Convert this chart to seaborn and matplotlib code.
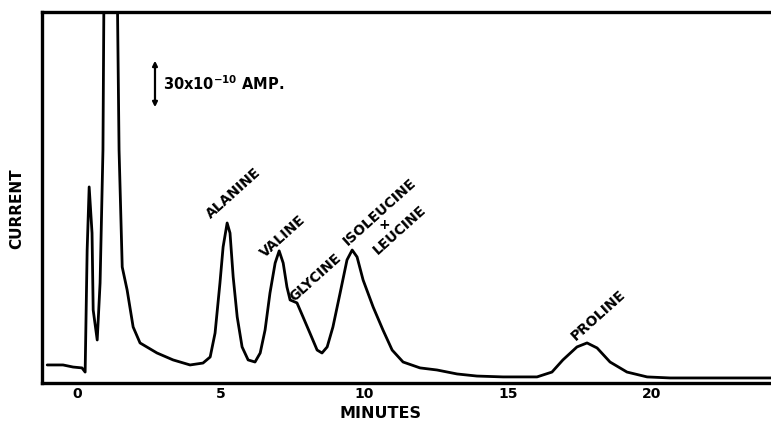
import matplotlib
matplotlib.use("Agg")
import matplotlib.pyplot as plt
import seaborn as sns
import pandas as pd

# chromatogram trace (minutes, current in 1e-10 A)
minutes = [-1.04, -0.49, -0.14, 0.17, 0.28, 0.35, 0.42, 0.52, 0.56, 0.70,
           0.80, 0.90, 0.94, 1.39, 1.46, 1.57, 1.74, 1.95, 2.19, 2.78,
           3.34, 3.93, 4.38, 4.63, 4.80, 4.97, 5.08, 5.22, 5.32, 5.43,
           5.57, 5.74, 5.95, 6.19, 6.37, 6.54, 6.71, 6.89, 7.03, 7.17,
           7.30, 7.41, 7.65, 7.86, 8.10, 8.35, 8.52, 8.70, 8.90, 9.15,
           9.39, 9.57, 9.74, 9.95, 10.30, 10.64, 10.96, 11.34, 11.93, 12.52,
           13.22, 13.91, 14.82, 16.00, 16.52, 16.90, 17.39, 17.74, 18.09, 18.54,
           19.13, 19.83, 20.63, 24.14]
current = [10.4, 10.4, 9.2, 8.7, 6.3, 76.7, 113.1, 86.5, 42.1, 24.8,
           57.7, 134.4, 240.0, 240.0, 134.4, 66.9, 53.7, 32.3, 23.1, 17.3,
           13.3, 10.4, 11.5, 15.0, 28.8, 57.7, 78.5, 92.3, 86.5, 61.2,
           38.1, 20.8, 13.3, 12.1, 17.3, 30.6, 51.9, 69.2, 76.2, 69.2,
           55.4, 47.9, 46.2, 38.1, 28.8, 19.0, 17.3, 20.8, 32.3, 51.9,
           71.0, 76.7, 72.7, 59.4, 43.8, 30.6, 19.0, 12.1, 8.7, 7.5,
           5.2, 4.0, 3.5, 3.5, 6.3, 13.3, 20.8, 23.1, 20.2, 12.1,
           6.3, 3.5, 2.9, 2.9]

# peak labels: text, minutes, current
peak_names = ["ALANINE", "VALINE", "GLYCINE", "ISOLEUCINE", "+", "LEUCINE", "PROLINE"]
peak_x = [5.43, 7.17, 8.28, 10.54, 10.68, 11.23, 18.12]
peak_y = [109.6, 84.8, 60.6, 98.6, 91.0, 88.3, 39.2]

xticks = [0, 5, 10, 15, 20]

# scale bar: 30 x 1e-10 A
bar_x = 2.71
bar_low = 157.5
bar_high = 187.5

df = pd.DataFrame({"minutes": minutes, "current": current})

sns.set_style("white")
plt.rcParams["font.family"] = ["DejaVu Sans"]
plt.rcParams["mathtext.default"] = "bf"
plt.rcParams["text.color"] = "black"
plt.rcParams["axes.labelcolor"] = "black"
plt.rcParams["xtick.color"] = "black"

fig = plt.figure(figsize=(7.71, 4.23), dpi=100)
ax = fig.add_axes([0.0545, 0.0946, 0.9455, 0.877])

sns.lineplot(data=df, x="minutes", y="current", sort=False,
             color="black", linewidth=2.0, ax=ax)

ax.set_xlim(-1.22, 24.14)
ax.set_ylim(0, 214)
ax.set_xticks(xticks)
ax.set_xticklabels([str(t) for t in xticks], fontsize=10, fontweight="bold")
ax.set_yticks([])
ax.tick_params(axis="x", length=0, pad=3)
ax.set_xlabel("MINUTES", fontsize=11.5, fontweight="bold", va="center")
ax.xaxis.set_label_coords(0.464, -0.082)
ax.set_ylabel("CURRENT", fontsize=11, fontweight="bold")
ax.yaxis.set_label_coords(-0.024, 0.469)

for side in ["left", "bottom", "top"]:
    ax.spines[side].set_linewidth(2.4)
    ax.spines[side].set_color("black")
ax.spines["right"].set_visible(False)

for name, x, y in zip(peak_names, peak_x, peak_y):
    ax.text(x, y, name, rotation=42 if name != "+" else 0,
            ha="center", va="center", fontsize=10, fontweight="bold",
            rotation_mode="anchor")

ax.annotate("", xy=(bar_x, bar_high), xytext=(bar_x, bar_low),
            arrowprops=dict(arrowstyle="<|-|>", lw=1.6, color="black",
                            mutation_scale=7))
ax.text(bar_x + 0.28, (bar_low + bar_high) / 2, r"30x10$^{-10}$ AMP.",
        ha="left", va="center", fontsize=10.5, fontweight="bold")

plt.savefig("out.png", dpi=100)
